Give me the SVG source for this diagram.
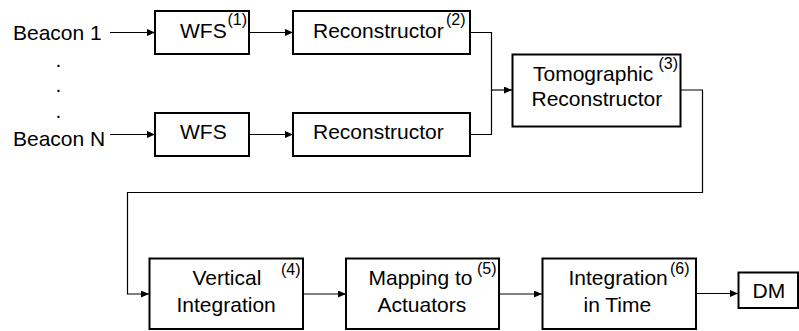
<svg xmlns="http://www.w3.org/2000/svg" width="799" height="331" viewBox="0 0 799 331">
  <style>
    .box { fill: #fff; stroke: #000; stroke-width: 2; }
    .lbl { font-family: "Liberation Sans", Arial, sans-serif; font-size: 21px; fill: #000; }
    .sup { font-family: "Liberation Sans", Arial, sans-serif; font-size: 16px; fill: #000; }
    .wire { fill: none; stroke: #000; stroke-width: 1.2; }
  </style>
  <defs>
    <marker id="arrow" viewBox="0 0 8 7" refX="8" refY="3.5" markerWidth="8" markerHeight="7" markerUnits="userSpaceOnUse" orient="auto">
      <path d="M0,0 L8,3.5 L0,7 Z" fill="#000"/>
    </marker>
  </defs>

  <rect width="799" height="331" fill="#fff"/>

  <!-- sources -->
  <g id="beacon1"><text class="lbl" x="13" y="40">Beacon 1</text></g>
  <g id="dots">
    <text class="lbl" x="55.5" y="66.5">.</text>
    <text class="lbl" x="55.5" y="91.5">.</text>
    <text class="lbl" x="55.5" y="117.5">.</text>
  </g>
  <g id="beaconN"><text class="lbl" x="13" y="145.5">Beacon N</text></g>

  <!-- wavefront sensors -->
  <g id="wfs1">
    <rect class="box" x="155" y="11" width="94" height="43"/>
    <text class="lbl" x="180" y="37.5">WFS</text>
    <text class="sup" x="227.5" y="25">(1)</text>
  </g>
  <g id="wfsN">
    <rect class="box" x="155" y="113" width="94" height="43"/>
    <text class="lbl" x="180" y="138.5">WFS</text>
  </g>

  <!-- per-beacon reconstructors -->
  <g id="recon1">
    <rect class="box" x="293" y="11" width="177" height="43"/>
    <text class="lbl" x="313" y="37.5">Reconstructor</text>
    <text class="sup" x="446" y="25">(2)</text>
  </g>
  <g id="reconN">
    <rect class="box" x="293" y="113" width="177" height="43"/>
    <text class="lbl" x="313" y="138.5">Reconstructor</text>
  </g>

  <!-- tomographic reconstructor -->
  <g id="tomo">
    <rect class="box" x="512.5" y="54.5" width="168" height="72"/>
    <text class="lbl" x="533" y="81">Tomographic</text>
    <text class="lbl" x="531.5" y="105.5">Reconstructor</text>
    <text class="sup" x="658.5" y="69">(3)</text>
  </g>

  <!-- lower chain -->
  <g id="vertical">
    <rect class="box" x="149.5" y="258.5" width="153.5" height="70.5"/>
    <text class="lbl" x="192.5" y="285">Vertical</text>
    <text class="lbl" x="176.5" y="311.5">Integration</text>
    <text class="sup" x="281" y="275">(4)</text>
  </g>
  <g id="mapping">
    <rect class="box" x="346" y="258.5" width="153" height="70.5"/>
    <text class="lbl" x="368.5" y="285">Mapping to</text>
    <text class="lbl" x="377.5" y="311.5">Actuators</text>
    <text class="sup" x="477" y="274">(5)</text>
  </g>
  <g id="timeint">
    <rect class="box" x="542.5" y="258.5" width="153.5" height="70.5"/>
    <text class="lbl" x="568.5" y="285">Integration</text>
    <text class="lbl" x="583.5" y="311.5">in Time</text>
    <text class="sup" x="670" y="273.5">(6)</text>
  </g>
  <g id="dm">
    <rect class="box" x="738.5" y="272.5" width="59.5" height="35.5"/>
    <text class="lbl" x="752.5" y="298">DM</text>
  </g>

  <!-- connectors -->
  <g id="connectors">
    <path class="wire" d="M110,32.5 H155" marker-end="url(#arrow)"/>
    <path class="wire" d="M110,134.5 H155" marker-end="url(#arrow)"/>
    <path class="wire" d="M249,32.5 H293" marker-end="url(#arrow)"/>
    <path class="wire" d="M249,134.5 H293" marker-end="url(#arrow)"/>
    <path class="wire" d="M470,32.5 H491.5 V134.5 H470"/>
    <path class="wire" d="M491.5,90 H512" marker-end="url(#arrow)"/>
    <path class="wire" d="M681,90 H702.5 V192.5 H127.5 V294 H149" marker-end="url(#arrow)"/>
    <path class="wire" d="M303,294 H346" marker-end="url(#arrow)"/>
    <path class="wire" d="M499,294 H542" marker-end="url(#arrow)"/>
    <path class="wire" d="M696,293.5 H738" marker-end="url(#arrow)"/>
  </g>
</svg>
